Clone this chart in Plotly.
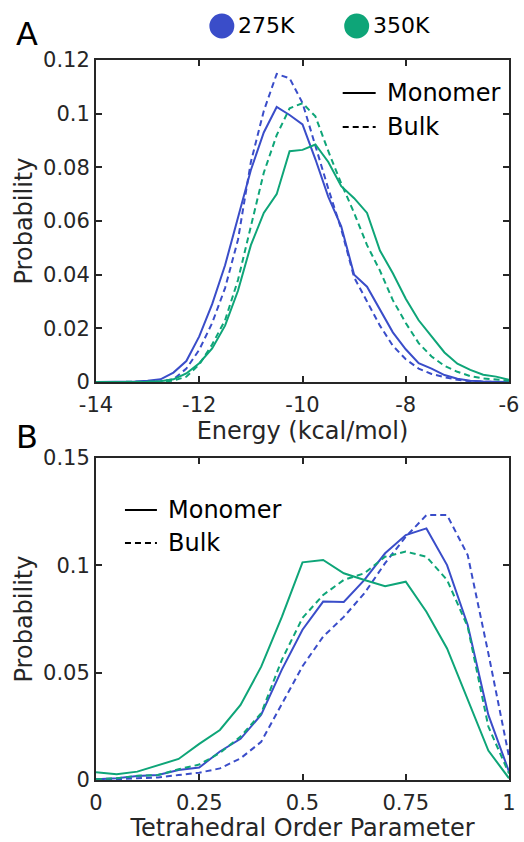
import plotly.graph_objects as go
from plotly.subplots import make_subplots

# ---------------- Data ----------------
energy = [-14.0, -13.75, -13.5, -13.25, -13.0, -12.75, -12.5, -12.25, -12.0, -11.75, -11.5,
          -11.25, -11.0, -10.75, -10.5, -10.25, -10.0, -9.75, -9.5, -9.25, -9.0, -8.75,
          -8.5, -8.25, -8.0, -7.75, -7.5, -7.25, -7.0, -6.75, -6.5, -6.25, -6.0]

e_275_mono = [0, 0, 0, 0.0002, 0.0005, 0.001, 0.0035, 0.0078, 0.017, 0.029, 0.0435,
              0.061, 0.079, 0.093, 0.1025, 0.0995, 0.096, 0.083, 0.069, 0.058, 0.040, 0.0355,
              0.027, 0.0185, 0.0122, 0.007, 0.005, 0.0026, 0.0012, 0.0005, 0.0002, 0.0001, 0]
e_275_bulk = [0, 0, 0, 0, 0, 0.0003, 0.001, 0.005, 0.012, 0.022, 0.035,
              0.053, 0.082, 0.101, 0.1148, 0.1132, 0.104, 0.088, 0.072, 0.057, 0.039, 0.030,
              0.021, 0.0135, 0.0085, 0.005, 0.003, 0.0018, 0.0008, 0.0003, 0.0001, 0, 0]
e_350_mono = [0, 0, 0, 0, 0.0001, 0.0003, 0.001, 0.0032, 0.007, 0.0125, 0.021,
              0.034, 0.051, 0.063, 0.070, 0.086, 0.0865, 0.0885, 0.082, 0.073, 0.0685, 0.063,
              0.049, 0.0405, 0.031, 0.023, 0.017, 0.011, 0.0068, 0.0045, 0.0027, 0.002, 0.0008]
e_350_bulk = [0, 0, 0, 0, 0, 0.0001, 0.0005, 0.002, 0.0065, 0.014, 0.023,
              0.038, 0.058, 0.078, 0.092, 0.102, 0.1039, 0.099, 0.086, 0.074, 0.063, 0.051,
              0.0415, 0.0305, 0.022, 0.0145, 0.0095, 0.006, 0.0038, 0.0022, 0.0013, 0.0008, 0.0005]

q = [0.0, 0.05, 0.1, 0.15, 0.2, 0.25, 0.3, 0.35, 0.4, 0.45, 0.5,
     0.55, 0.6, 0.65, 0.7, 0.75, 0.8, 0.85, 0.9, 0.95, 1.0]

q_275_mono = [0.0003, 0.0008, 0.0019, 0.0023, 0.0047, 0.0058, 0.0133, 0.0192, 0.0304, 0.0514, 0.070,
              0.0831, 0.0829, 0.0932, 0.1056, 0.1141, 0.1172, 0.1001, 0.0722, 0.0303, 0.0039]
q_275_bulk = [0.0003, 0.0003, 0.0008, 0.0012, 0.0023, 0.0034, 0.0054, 0.0101, 0.0178, 0.0357, 0.053,
              0.0668, 0.076, 0.087, 0.101, 0.1133, 0.1234, 0.1234, 0.1048, 0.059, 0.0109]
q_350_mono = [0.0036, 0.0027, 0.0039, 0.007, 0.0098, 0.0168, 0.0233, 0.035, 0.0528, 0.076, 0.1014,
              0.1025, 0.0963, 0.0932, 0.0903, 0.0924, 0.0784, 0.0613, 0.0373, 0.0137, 0.0008]
q_350_bulk = [0.0003, 0.0008, 0.002, 0.0023, 0.005, 0.0072, 0.0126, 0.0202, 0.0311, 0.056, 0.0755,
              0.0862, 0.0932, 0.0963, 0.104, 0.1064, 0.104, 0.0932, 0.0714, 0.0249, 0.003]

e_ticks = [-14, -12, -10, -8, -6]
e_ytick_vals = [0, 0.02, 0.04, 0.06, 0.08, 0.1, 0.12]
e_ytick_text = ["0", "0.02", "0.04", "0.06", "0.08", "0.1", "0.12"]
q_tick_vals = [0, 0.25, 0.5, 0.75, 1]
q_tick_text = ["0", "0.25", "0.5", "0.75", "1"]
q_ytick_vals = [0, 0.05, 0.1, 0.15]
q_ytick_text = ["0", "0.05", "0.1", "0.15"]

BLUE = "#3A4DC9"
GREEN = "#0EA578"
AXC = "#262626"
FONT = "DejaVu Sans"
DASH = "6px,4px"

fig = make_subplots(rows=2, cols=1, vertical_spacing=76/720)

def add(x, y, color, dash, row):
    fig.add_trace(go.Scatter(x=x, y=y, mode="lines",
                             line=dict(color=color, width=2, dash=dash),
                             showlegend=False, hoverinfo="skip"), row=row, col=1)

add(energy, e_275_mono, BLUE, "solid", 1)
add(energy, e_275_bulk, BLUE, DASH, 1)
add(energy, e_350_mono, GREEN, "solid", 1)
add(energy, e_350_bulk, GREEN, DASH, 1)

add(q, q_275_mono, BLUE, "solid", 2)
add(q, q_275_bulk, BLUE, DASH, 2)
add(q, q_350_mono, GREEN, "solid", 2)
add(q, q_350_bulk, GREEN, DASH, 2)

axis_common = dict(showline=True, linecolor=AXC, linewidth=2, mirror="ticks",
                   ticks="inside", ticklen=6, tickwidth=1.5, tickcolor=AXC,
                   showgrid=False, zeroline=False, automargin=False,
                   tickfont=dict(family=FONT, size=21, color=AXC))

fig.update_xaxes(range=[-14, -6], tickvals=e_ticks, ticktext=[str(t) for t in e_ticks],
                 ticklabelstandoff=3,
                 title=dict(text="Energy (kcal/mol)", font=dict(family=FONT, size=24, color=AXC), standoff=6),
                 row=1, col=1, **axis_common)
fig.update_yaxes(range=[0, 0.12], tickvals=e_ytick_vals, ticktext=e_ytick_text,
                 title=dict(text="Probability", font=dict(family=FONT, size=24, color=AXC), standoff=4),
                 row=1, col=1, **axis_common)
fig.update_xaxes(range=[0, 1], tickvals=q_tick_vals, ticktext=q_tick_text,
                 ticklabelstandoff=3,
                 title=dict(text="Tetrahedral Order Parameter", font=dict(family=FONT, size=24, color=AXC), standoff=6),
                 row=2, col=1, **axis_common)
fig.update_yaxes(range=[0, 0.15], tickvals=q_ytick_vals, ticktext=q_ytick_text,
                 title=dict(text="Probability", font=dict(family=FONT, size=24, color=AXC), standoff=4),
                 row=2, col=1, **axis_common)

W, H = 524, 842
ML, MR, MT, MB = 96, 14.5, 60, 62

def px(xp):
    return (xp - ML) / (W - ML - MR)

def py(yp):
    return 1 - (yp - MT) / (H - MT - MB)

shapes = []
annotations = []

# Top temperature legend (dots + text)
for cx, label, col in [(222, "275K", BLUE), (357, "350K", GREEN)]:
    shapes.append(dict(type="circle", xref="paper", yref="paper",
                       x0=px(cx - 12.5), x1=px(cx + 12.5), y0=py(26 + 12.5), y1=py(26 - 12.5),
                       fillcolor=col, line=dict(width=0)))
    annotations.append(dict(text=label, xref="paper", yref="paper", x=px(cx + 14), y=py(26),
                            xanchor="left", yanchor="middle", showarrow=False,
                            font=dict(family=FONT, size=22, color="black")))

# Line-style legends
def style_legend(x0, x1, ytop, ybot, xtext):
    shapes.append(dict(type="line", xref="paper", yref="paper", x0=px(x0), x1=px(x1),
                       y0=py(ytop), y1=py(ytop), line=dict(color="black", width=2)))
    shapes.append(dict(type="line", xref="paper", yref="paper", x0=px(x0), x1=px(x1),
                       y0=py(ybot), y1=py(ybot), line=dict(color="black", width=2, dash="6px,4px")))
    for yy, t in [(ytop, "Monomer"), (ybot, "Bulk")]:
        annotations.append(dict(text=t, xref="paper", yref="paper", x=px(xtext), y=py(yy),
                                xanchor="left", yanchor="middle", showarrow=False,
                                font=dict(family=FONT, size=24, color="black")))

style_legend(343, 376, 93, 127, 385)
style_legend(125, 157, 510, 543, 166)

# Panel letters
for letter, yy in [("A", 34), ("B", 437)]:
    annotations.append(dict(text=letter, xref="paper", yref="paper", x=px(14), y=py(yy),
                            xanchor="left", yanchor="middle", showarrow=False,
                            font=dict(family=FONT, size=32, color="black")))

fig.update_layout(width=W, height=H, margin=dict(l=ML, r=MR, t=MT, b=MB, autoexpand=False),
                  paper_bgcolor="white", plot_bgcolor="white",
                  shapes=shapes, annotations=annotations, showlegend=False,
                  font=dict(family=FONT))

fig.write_html("out.html")
